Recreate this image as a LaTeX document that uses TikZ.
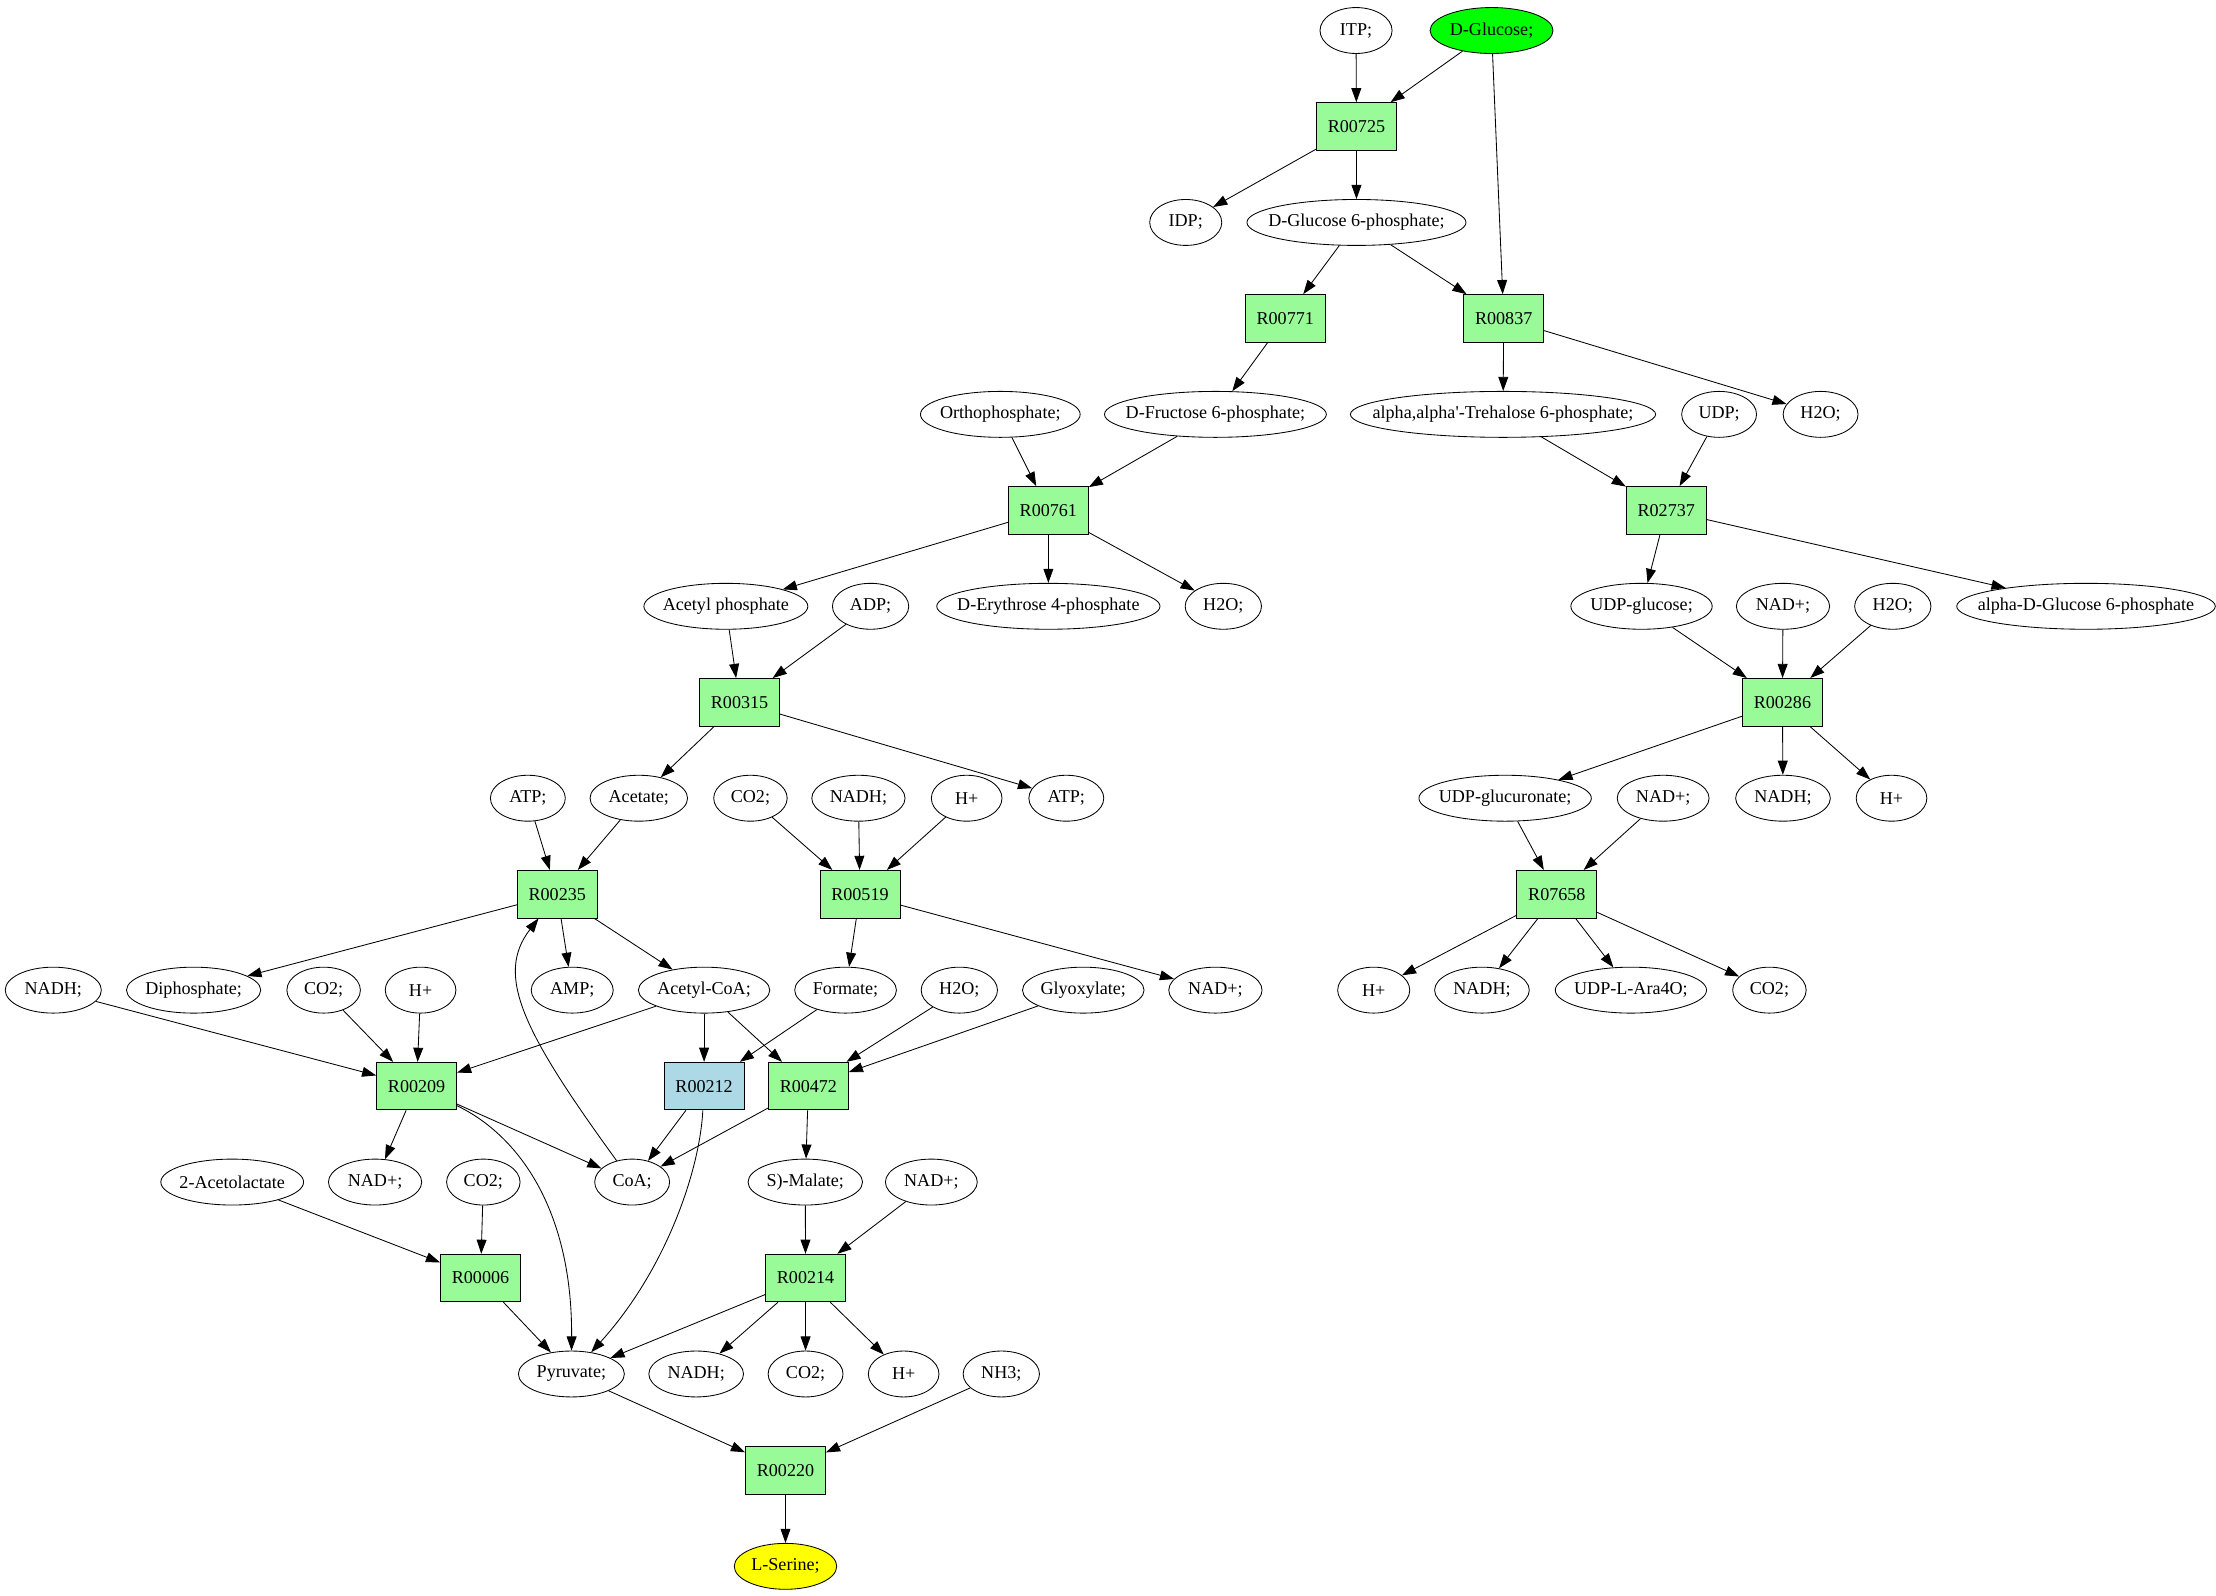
\documentclass[tikz,border=0pt]{standalone}
\usepackage{fontspec}
\setmainfont{Liberation Serif}
\usepackage{tikz}
\usetikzlibrary{arrows.meta,shapes.geometric}
\usepackage{xcolor}
\definecolor{rxngreen}{RGB}{152,251,152}
\definecolor{rxnblue}{RGB}{173,216,230}
\definecolor{srcgreen}{RGB}{0,255,0}
\definecolor{dstyellow}{RGB}{255,255,0}
\tikzstyle{arrow} = [line width=0.6pt,->,>={Triangle[length=10pt,width=7pt]}]
\tikzstyle{rxn} = [draw, rectangle, line width=0.6pt, fill=rxngreen, minimum width=56.6pt, minimum height=33.7pt, inner sep=0pt]
\tikzstyle{cpd} = [draw, ellipse, line width=0.6pt, minimum width=51pt, minimum height=32.5pt, inner sep=0pt,
  execute at begin node={\hbox to 0pt\bgroup\hss}, execute at end node={\hss\egroup}]

\begin{document}
\begin{tikzpicture}[x=1pt, y=-1pt, every node/.style={font=\fontsize{12.8}{15}\selectfont}]
\useasboundingbox (0,0) rectangle (1568,1128.6);

% Glucose branch
\node[cpd] (itp) at (959.5,21.6) {ITP;};
\node[cpd, fill=srcgreen, minimum width=87pt] (glc) at (1055.4,21.6) {D-Glucose;};
\node[rxn] (r00725) at (959.8,89.5) {R00725};
\node[cpd] (idp) at (839,157.4) {IDP;};
\node[cpd, minimum width=155pt] (g6p) at (959.8,157.4) {D-Glucose 6-phosphate;};
\node[rxn] (r00771) at (909.4,225.3) {R00771};
\node[rxn] (r00837) at (1064,225.3) {R00837};
\node[cpd, minimum width=113pt] (pi) at (707.8,293.2) {Orthophosphate;};
\node[cpd, minimum width=157pt] (f6p) at (860,293.2) {D-Fructose 6-phosphate;};
\node[cpd, minimum width=216pt] (t6p) at (1063.5,293.2) {alpha,alpha\textquotesingle-Trehalose 6-phosphate;};
\node[cpd, minimum width=53pt] (udp) at (1216.4,293.2) {UDP;};
\node[cpd, minimum width=53pt] (h2oA) at (1288.2,293.2) {H2O;};
\node[rxn] (r00761) at (741.8,361.1) {R00761};
\node[rxn] (r02737) at (1179,361.1) {R02737};

% Second level
\node[cpd, minimum width=116pt] (acp) at (513.6,429) {Acetyl phosphate};
\node[cpd, minimum width=54pt] (adp) at (616,429) {ADP;};
\node[cpd, minimum width=158pt] (e4p) at (741.8,429) {D-Erythrose 4-phosphate};
\node[cpd, minimum width=54pt] (h2oB) at (865.6,429) {H2O;};
\node[cpd, minimum width=100pt] (udpglc) at (1161.5,429) {UDP-glucose;};
\node[cpd, minimum width=66pt] (nadA) at (1261.6,429) {NAD+;};
\node[cpd, minimum width=54pt] (h2oC) at (1339.3,429) {H2O;};
\node[cpd, minimum width=183pt] (ag6p) at (1476,429) {alpha-D-Glucose 6-phosphate};
\node[rxn] (r00315) at (523.3,496.9) {R00315};
\node[rxn] (r00286) at (1261.2,496.9) {R00286};

\node[cpd, minimum width=53pt] (atpA) at (373.5,564.8) {ATP;};
\node[cpd, minimum width=69pt] (acet) at (452,564.8) {Acetate;};
\node[cpd, minimum width=52pt] (co2A) at (531,564.8) {CO2;};
\node[cpd, minimum width=66pt] (nadhA) at (607.4,564.8) {NADH;};
\node[cpd, minimum width=50pt] (hA) at (684,564.8) {H+};
\node[cpd, minimum width=53pt] (atpB) at (754.5,564.8) {ATP;};
\node[cpd, minimum width=122pt] (udpglcu) at (1065,564.8) {UDP-glucuronate;};
\node[cpd, minimum width=65pt] (nadB) at (1176.8,564.8) {NAD+;};
\node[cpd, minimum width=67pt] (nadhB) at (1261.6,564.8) {NADH;};
\node[cpd, minimum width=50pt] (hB) at (1338.4,564.8) {H+};
\node[rxn] (r00235) at (394.3,632.7) {R00235};
\node[rxn] (r00519) at (608.5,632.7) {R00519};
\node[rxn] (r07658) at (1101.6,632.7) {R07658};

% Acetyl-CoA level
\node[cpd, minimum width=68pt] (nadhC) at (37.7,700.6) {NADH;};
\node[cpd, minimum width=95pt] (ppi) at (137,700.6) {Diphosphate;};
\node[cpd, minimum width=52pt] (co2B) at (229,700.6) {CO2;};
\node[cpd, minimum width=50pt] (hC) at (297.6,700.6) {H+};
\node[cpd, minimum width=58pt] (amp) at (404.9,700.6) {AMP;};
\node[cpd, minimum width=93pt] (accoa) at (498.2,700.6) {Acetyl-CoA;};
\node[cpd, minimum width=72pt] (form) at (598.3,700.6) {Formate;};
\node[cpd, minimum width=54pt] (h2oD) at (678.8,700.6) {H2O;};
\node[cpd, minimum width=86pt] (glyox) at (766.5,700.6) {Glyoxylate;};
\node[cpd, minimum width=66pt] (nadC) at (860,700.6) {NAD+;};
\node[cpd, minimum width=51pt] (hD) at (972,700.6) {H+};
\node[cpd, minimum width=67pt] (nadhD) at (1048.6,700.6) {NADH;};
\node[cpd, minimum width=107pt] (ara4o) at (1154,700.6) {UDP-L-Ara4O;};
\node[cpd, minimum width=52pt] (co2C) at (1252,700.6) {CO2;};
\node[rxn] (r00209) at (294.8,768.5) {R00209};
\node[rxn, fill=rxnblue] (r00212) at (498.2,768.5) {R00212};
\node[rxn] (r00472) at (572,768.5) {R00472};

% Pyruvate level
\node[cpd, minimum width=101pt] (acl) at (164.3,836.4) {2-Acetolactate};
\node[cpd, minimum width=66pt] (nadD) at (265.4,836.4) {NAD+;};
\node[cpd, minimum width=52pt] (co2D) at (342,836.4) {CO2;};
\node[cpd, minimum width=53pt] (coa) at (447.3,836.4) {CoA;};
\node[cpd, minimum width=81pt] (mal) at (569.8,836.4) {S)-Malate;};
\node[cpd, minimum width=65pt] (nadE) at (659,836.4) {NAD+;};
\node[rxn] (r00006) at (340,904.3) {R00006};
\node[rxn] (r00214) at (570,904.3) {R00214};
\node[cpd, minimum width=75pt] (pyr) at (404.3,972.2) {Pyruvate;};
\node[cpd, minimum width=67pt] (nadhE) at (492.6,972.2) {NADH;};
\node[cpd, minimum width=53pt] (co2E) at (570,972.2) {CO2;};
\node[cpd, minimum width=50pt] (hE) at (639.4,972.2) {H+};
\node[cpd, minimum width=54pt] (nh3) at (708.5,972.2) {NH3;};
\node[rxn] (r00220) at (555.8,1040.5) {R00220};
\node[cpd, fill=dstyellow, minimum width=72.5pt] (ser) at (555.8,1108.3) {L-Serine;};

% Straight edges
\foreach \a/\b in {itp/r00725, glc/r00725, glc/r00837, r00725/idp, r00725/g6p,
    g6p/r00771, g6p/r00837, r00771/f6p, r00837/t6p, r00837/h2oA,
    pi/r00761, f6p/r00761, t6p/r02737, udp/r02737,
    r00761/acp, r00761/e4p, r00761/h2oB, r02737/udpglc, r02737/ag6p,
    acp/r00315, adp/r00315, udpglc/r00286, nadA/r00286, h2oC/r00286,
    r00315/acet, r00315/atpB, r00286/udpglcu, r00286/nadhB, r00286/hB,
    atpA/r00235, acet/r00235, co2A/r00519, nadhA/r00519, hA/r00519,
    udpglcu/r07658, nadB/r07658,
    r00235/ppi, r00235/amp, r00235/accoa, r00519/form, r00519/nadC,
    r07658/hD, r07658/nadhD, r07658/ara4o, r07658/co2C,
    nadhC/r00209, co2B/r00209, hC/r00209, accoa/r00209, accoa/r00212, accoa/r00472,
    form/r00212, h2oD/r00472, glyox/r00472,
    r00209/nadD, r00209/coa, r00212/coa, r00472/coa, r00472/mal,
    acl/r00006, co2D/r00006, mal/r00214, nadE/r00214,
    r00006/pyr, r00214/pyr, r00214/nadhE, r00214/co2E, r00214/hE,
    pyr/r00220, nh3/r00220, r00220/ser} {
    \draw[arrow] (\a) -- (\b);
}

% Curved edges
\draw[arrow] (coa) .. controls (370,730) and (350,690) .. (r00235);
\draw[arrow] (r00209) .. controls (370,805) and (405,860) .. (pyr);
\draw[arrow] (r00212) .. controls (495,830) and (470,900) .. (pyr);
\end{tikzpicture}
\end{document}
